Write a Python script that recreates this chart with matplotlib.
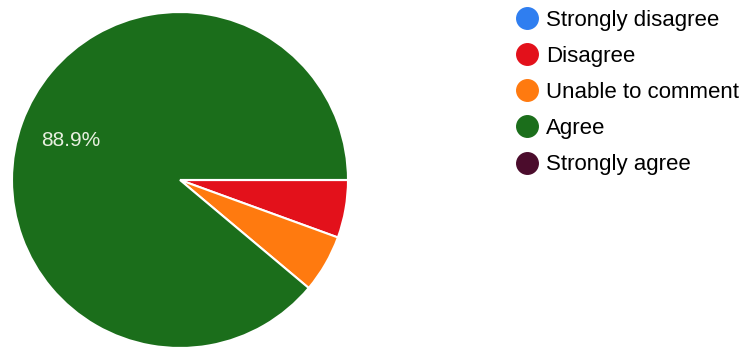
import matplotlib.pyplot as plt
from matplotlib.lines import Line2D

# survey responses (18 total)
labels = ["Strongly disagree", "Disagree", "Unable to comment", "Agree", "Strongly agree"]
counts = [0, 1, 1, 16, 0]
colors = ["#2f7ef0", "#e3111b", "#ff7a0f", "#1b6e1b", "#4b0c2c"]

plt.rcParams["font.family"] = ["Liberation Sans", "DejaVu Sans"]

W, H = 742, 350
fig = plt.figure(figsize=(W / 100, H / 100), dpi=100)
ax = fig.add_axes([12 / W, 2 / H, 336 / W, 336 / H])

wedges, texts, autotexts = ax.pie(
    counts,
    colors=colors,
    startangle=0,
    counterclock=False,
    radius=1.0,
    autopct=lambda p: f"{p:.1f}%" if p > 10 else "",
    pctdistance=0.69,
    wedgeprops=dict(edgecolor="white", linewidth=1.5),
    textprops=dict(color="#e8f0e0", fontsize=15),
)
ax.set_xlim(-1, 1)
ax.set_ylim(-1, 1)
ax.set_aspect("equal")

handles = [
    Line2D([], [], marker="o", linestyle="none", markersize=15.5,
           markerfacecolor=c, markeredgecolor=c)
    for c in colors
]
fig.legend(
    handles, labels,
    loc="upper left",
    bbox_to_anchor=(505 / W, 1 - 1 / H),
    frameon=False,
    fontsize=16,
    labelspacing=0.68,
    handletextpad=0.25,
    handlelength=1.2,
    borderaxespad=0,
)

fig.savefig("out.png", dpi=100)
